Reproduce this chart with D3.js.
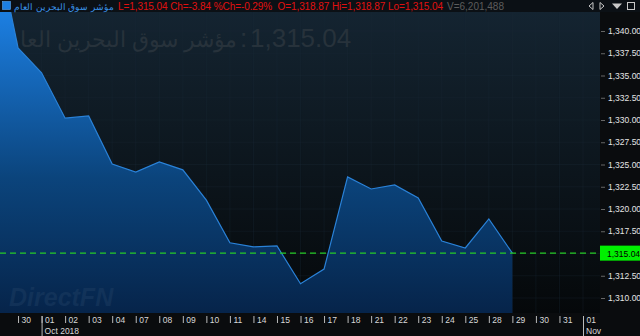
<!DOCTYPE html>
<html>
<head>
<meta charset="utf-8">
<script src="https://cdn.jsdelivr.net/npm/d3@7"></script>
<style>
  body { margin: 0; background: #0a0d10; }
  svg text { font-family: "Liberation Sans", Arial, sans-serif; }
</style>
</head>
<body>
<div id="chart"></div>
<script>
// data
var dates = ["2018-09-27", "2018-09-30", "2018-10-01", "2018-10-02", "2018-10-03", "2018-10-04",
  "2018-10-07", "2018-10-08", "2018-10-09", "2018-10-10", "2018-10-11", "2018-10-14",
  "2018-10-15", "2018-10-16", "2018-10-17", "2018-10-18", "2018-10-21", "2018-10-22",
  "2018-10-23", "2018-10-24", "2018-10-25", "2018-10-28", "2018-10-29", "2018-10-30",
  "2018-10-31", "2018-11-01"];
var closes = [1351.0, 1338.1, 1335.3, 1330.2, 1330.45, 1325.05, 1324.15, 1325.3, 1324.4, 1321.0,
  1316.2, 1315.75, 1315.85, 1311.6, 1313.25, 1323.6, 1322.25, 1322.7, 1321.25, 1316.4,
  1315.62, 1318.88, 1315.04];
var yTicks = [1310, 1312.5, 1315, 1317.5, 1320, 1322.5, 1325, 1327.5, 1330, 1332.5, 1335, 1337.5, 1340];
var lastValue = 1315.04;
var title = "مؤشر سوق البحرين العام";
var quoteText = "L=1,315.04 Ch=-3.84 %Ch=-0.29%  O=1,318.87 Hi=1,318.87 Lo=1,315.04";
var volumeText = "V=6,201,488";

var svgWidth = 640;
var svgHeight = 336;
var plot = { left: 0, right: 600, top: 12, bottom: 313 };

var svg = d3.select("#chart").append("svg")
  .attr("width", svgWidth)
  .attr("height", svgHeight);

var defs = svg.append("defs");

var bgGrad = defs.append("linearGradient").attr("id", "bgGrad")
  .attr("x1", 0).attr("y1", 0).attr("x2", 0).attr("y2", 1);
bgGrad.append("stop").attr("offset", "0%").attr("stop-color", "#142431");
bgGrad.append("stop").attr("offset", "100%").attr("stop-color", "#05080a");

var areaGrad = defs.append("linearGradient").attr("id", "areaGrad")
  .attr("gradientUnits", "userSpaceOnUse")
  .attr("x1", 0).attr("y1", plot.top).attr("x2", 0).attr("y2", plot.bottom);
areaGrad.append("stop").attr("offset", "0%").attr("stop-color", "#1c7fe2");
areaGrad.append("stop").attr("offset", "55%").attr("stop-color", "#0b447c");
areaGrad.append("stop").attr("offset", "100%").attr("stop-color", "#06244a");

defs.append("clipPath").attr("id", "plotClip")
  .append("rect")
  .attr("x", plot.left).attr("y", plot.top)
  .attr("width", plot.right - plot.left).attr("height", plot.bottom - plot.top);

// backgrounds
svg.append("rect").attr("width", svgWidth).attr("height", svgHeight).attr("fill", "#0a0c0e");
svg.append("rect")
  .attr("x", plot.left).attr("y", plot.top)
  .attr("width", plot.right - plot.left).attr("height", plot.bottom - plot.top)
  .attr("fill", "url(#bgGrad)");

// scales
var x = d3.scalePoint().domain(dates).range([-5.5, 583]);
var y = d3.scaleLinear().domain([1310, 1340]).range([298, 31]);

var plotG = svg.append("g").attr("clip-path", "url(#plotClip)");

// faint grid
plotG.selectAll(".vgrid").data(dates.slice(1))
  .enter().append("line")
  .attr("x1", d => x(d)).attr("x2", d => x(d))
  .attr("y1", plot.top).attr("y2", plot.bottom)
  .attr("stroke", "#1c2c38").attr("stroke-opacity", 0.3);
plotG.selectAll(".hgrid").data(yTicks)
  .enter().append("line")
  .attr("x1", plot.left).attr("x2", plot.right)
  .attr("y1", d => y(d)).attr("y2", d => y(d))
  .attr("stroke", "#1c2c38").attr("stroke-opacity", 0.3);

// big watermark title (arabic part, colon and value drawn separately to keep the order)
var wm = plotG.append("g").attr("fill", "#27323b");
wm.append("text")
  .attr("x", 237).attr("y", 47)
  .attr("text-anchor", "end")
  .attr("font-size", 22)
  .text(title);
wm.append("text")
  .attr("x", 240).attr("y", 47)
  .attr("font-size", 26)
  .text(":");
wm.append("text")
  .attr("x", 250).attr("y", 47)
  .attr("font-size", 26)
  .text(d3.format(",.2f")(lastValue));

// area
var series = closes.map((v, i) => ({ date: dates[i], value: v }));

var area = d3.area()
  .x(d => x(d.date))
  .y0(plot.bottom)
  .y1(d => y(d.value));
var line = d3.line()
  .x(d => x(d.date))
  .y(d => y(d.value));

plotG.append("path").datum(series)
  .attr("d", area)
  .attr("fill", "url(#areaGrad)");
plotG.append("path").datum(series)
  .attr("d", line)
  .attr("fill", "none")
  .attr("stroke", "#2a82d8")
  .attr("stroke-width", 1.2);

// DirectFN watermark
plotG.append("text")
  .attr("x", 9).attr("y", 306)
  .attr("font-size", 25)
  .attr("font-weight", "bold")
  .attr("font-style", "italic")
  .attr("fill", "#1d3d62")
  .attr("fill-opacity", 0.5)
  .text("DirectFN");

// last value line
svg.append("line")
  .attr("x1", plot.left).attr("x2", plot.right)
  .attr("y1", y(lastValue)).attr("y2", y(lastValue))
  .attr("stroke", "#27cc27")
  .attr("stroke-width", 1.4)
  .attr("stroke-dasharray", "6,4");

// right axis
var yAxis = d3.axisRight(y).tickValues(yTicks).tickSize(4).tickFormat(d3.format(",.2f"));
var yAxisG = svg.append("g")
  .attr("transform", `translate(${plot.right}, 0)`)
  .call(yAxis);
yAxisG.select(".domain").remove();
yAxisG.selectAll("line").attr("stroke", "#666").attr("transform", "translate(1,0)");
yAxisG.selectAll("text")
  .attr("x", 8)
  .attr("fill", "#e4e4e4")
  .attr("font-size", 8.5)
  .attr("font-family", "Liberation Sans, Arial, sans-serif");
yAxisG.selectAll(".tick").filter(d => d === 1315).remove();

// last value tag
svg.append("rect")
  .attr("x", plot.right).attr("y", y(lastValue) - 7.5)
  .attr("width", 40).attr("height", 15)
  .attr("fill", "#00f000");
svg.append("text")
  .attr("x", plot.right + 7).attr("y", y(lastValue) + 3.5)
  .attr("font-size", 8.5)
  .attr("fill", "#000")
  .text(d3.format(",.2f")(lastValue));

// bottom axis
var xAxis = d3.axisBottom(x)
  .tickValues(dates.slice(1))
  .tickSize(7)
  .tickFormat(d => d.slice(8));
var xAxisG = svg.append("g")
  .attr("transform", `translate(0, ${plot.bottom + 3})`)
  .call(xAxis);
xAxisG.select(".domain").remove();
xAxisG.selectAll("line").attr("stroke", "#bbb");
xAxisG.selectAll("text")
  .attr("x", 3).attr("y", 0).attr("dy", "0.78em")
  .attr("text-anchor", "start")
  .attr("fill", "#d8d8d8")
  .attr("font-size", 8.5)
  .attr("font-family", "Liberation Sans, Arial, sans-serif");

// month markers
var monthMarks = [{ date: "2018-10-01", label: "Oct 2018" }, { date: "2018-11-01", label: "Nov" }];
monthMarks.forEach(function(m) {
  svg.append("line")
    .attr("x1", x(m.date) + 0.5).attr("x2", x(m.date) + 0.5)
    .attr("y1", plot.bottom + 3).attr("y2", svgHeight)
    .attr("stroke", "#bbb");
  svg.append("text")
    .attr("x", x(m.date) + 3).attr("y", 334)
    .attr("font-size", 8.5)
    .attr("fill", "#d8d8d8")
    .text(m.label);
});

// header strip
svg.append("rect").attr("width", svgWidth).attr("height", plot.top).attr("fill", "#0b1015");
svg.append("rect")
  .attr("x", 2.5).attr("y", 1.5).attr("width", 8).attr("height", 8)
  .attr("fill", "#1c7fe2").attr("stroke", "#5aa6ee").attr("stroke-width", 0.6);

svg.append("text")
  .attr("x", 14).attr("y", 10)
  .attr("font-size", 9)
  .attr("fill", "#3a92e8")
  .text(title);
var header = svg.append("text").attr("y", 10).attr("font-size", 10);
header.append("tspan").attr("x", 118).attr("fill", "#e01010").attr("xml:space", "preserve")
  .attr("textLength", 325).attr("lengthAdjust", "spacing").text(quoteText);
header.append("tspan").attr("x", 447).attr("fill", "#5c5c5c").text(volumeText);

// window icons
var icons = svg.append("g").attr("fill", "#c8c8c8");
icons.append("path").attr("d", "M589,6 L593,2.5 L593,9.5 Z").attr("fill", "none").attr("stroke", "#c8c8c8");
icons.append("path").attr("d", "M600,2.5 L604,6 L600,9.5 Z").attr("fill", "none").attr("stroke", "#c8c8c8");
icons.append("path").attr("d", "M612,3.5 L622,3.5 L617,9 Z");
icons.append("rect").attr("x", 627.5).attr("y", 2.5).attr("width", 7).attr("height", 7)
  .attr("fill", "none").attr("stroke", "#c8c8c8");
</script>
</body>
</html>
